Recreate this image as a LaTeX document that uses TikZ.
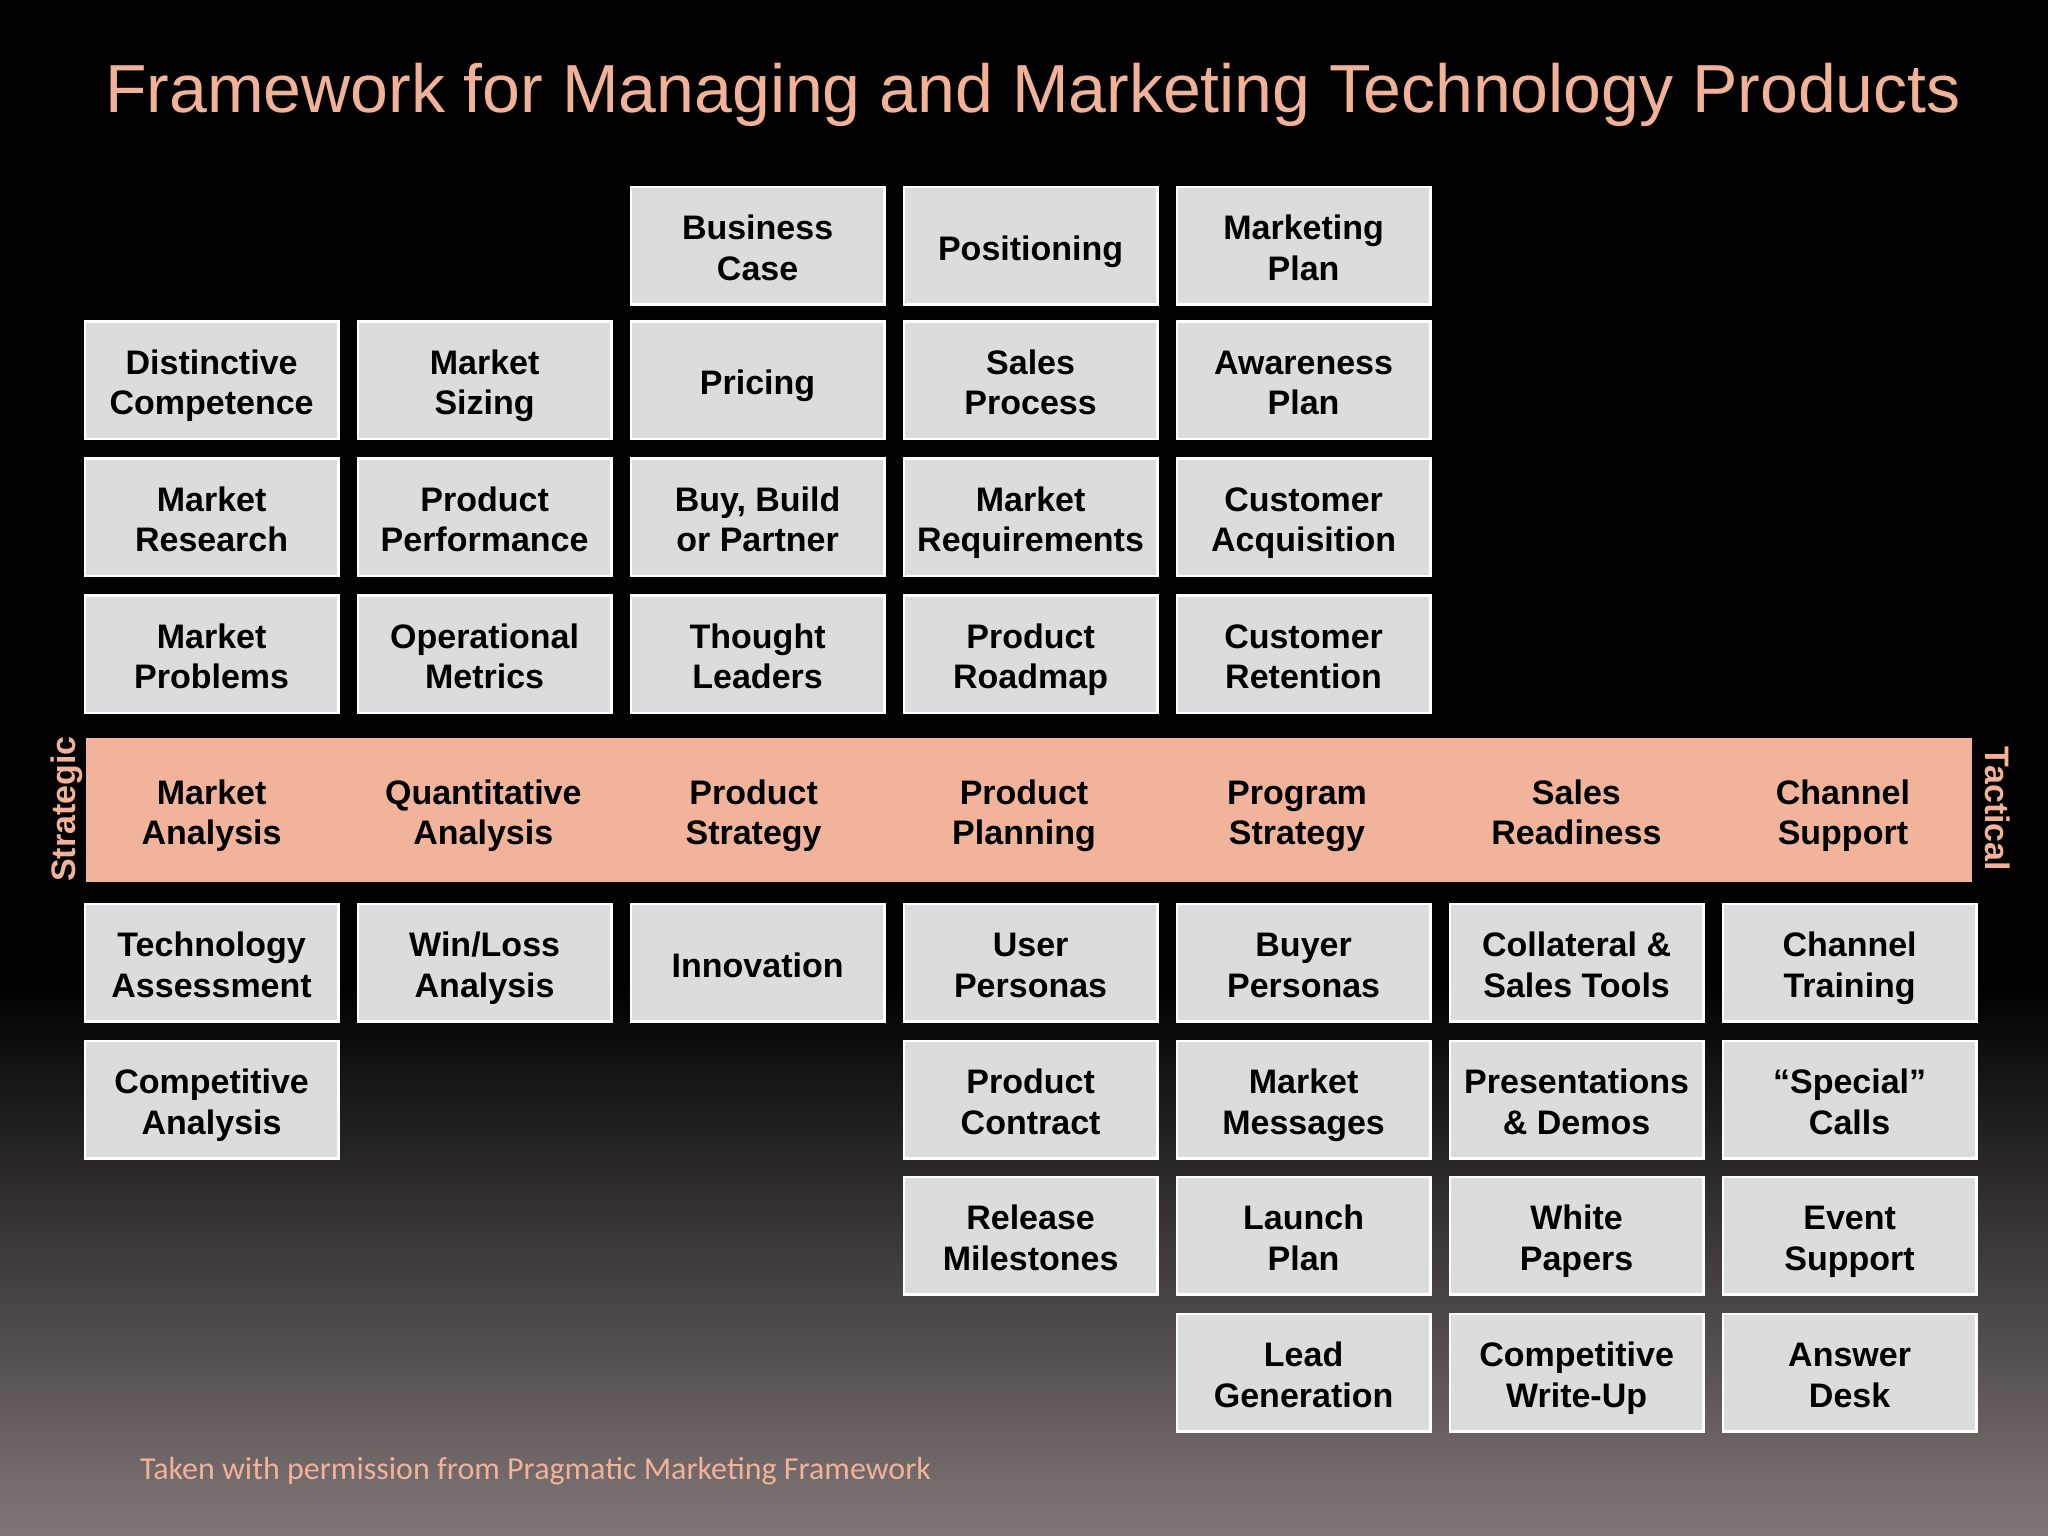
\documentclass[tikz,border=0pt]{standalone}
\usepackage{fontspec}
\setmainfont{Liberation Sans}
\newfontfamily\footfont{Carlito}
\definecolor{salmon}{RGB}{242,178,152}
\definecolor{bandfill}{RGB}{242,179,155}
\definecolor{boxfill}{RGB}{220,219,221}
\definecolor{bgbottom}{RGB}{128,118,119}
\begin{document}
\begin{tikzpicture}[x=1pt,y=-1pt,
  celltext/.style={align=center, font=\fontsize{34}{40.5}\selectfont\bfseries, text=black,
    text height=78.5pt, text depth=9pt},
  cell/.style={celltext, rectangle, fill=boxfill, draw=white, line width=2.5pt,
    minimum width=253.4pt, minimum height=117.5pt, inner sep=0pt},
  oneline/.style={text height=38pt},
  side/.style={font=\fontsize{34}{40}\selectfont\bfseries, text=salmon, inner sep=0pt}]
\useasboundingbox (0,0) rectangle (2048,1536);
\fill[black] (0,0) rectangle (2048,1536);
\shade[top color=black, bottom color=bgbottom] (0,980) rectangle (2048,1536);

\node[anchor=base, text=salmon, font=\fontsize{68}{80}\selectfont, inner sep=0pt] (title) at (1033,113)
  {Framework for Managing and Marketing Technology Products};

% row 1
\node[cell] (buscase) at (757.6,245.5) {Business\\Case};
\node[cell, oneline] (positioning) at (1030.6,245.5) {Positioning};
\node[cell] (mktplan) at (1303.6,245.5) {Marketing\\Plan};
% row 2
\node[cell] (distinct) at (211.6,380) {Distinctive\\Competence};
\node[cell] (sizing) at (484.6,380) {Market\\Sizing};
\node[cell, oneline] (pricing) at (757.6,380) {Pricing};
\node[cell] (salesproc) at (1030.6,380) {Sales\\Process};
\node[cell] (awareness) at (1303.6,380) {Awareness\\Plan};
% row 3
\node[cell] (research) at (211.6,517) {Market\\Research};
\node[cell] (prodperf) at (484.6,517) {Product\\Performance};
\node[cell] (buybuild) at (757.6,517) {Buy, Build\\or Partner};
\node[cell] (mktreq) at (1030.6,517) {Market\\Requirements};
\node[cell] (acquisition) at (1303.6,517) {Customer\\Acquisition};
% row 4
\node[cell] (problems) at (211.6,654) {Market\\Problems};
\node[cell] (opmetrics) at (484.6,654) {Operational\\Metrics};
\node[cell] (thought) at (757.6,654) {Thought\\Leaders};
\node[cell] (roadmap) at (1030.6,654) {Product\\Roadmap};
\node[cell] (retention) at (1303.6,654) {Customer\\Retention};

% band
\node[rectangle, fill=bandfill, minimum width=1886pt, minimum height=144.5pt, inner sep=0pt] (band) at (1029,809.75) {};
\node[celltext] (b1) at (211.6,809.75) {Market\\Analysis};
\node[celltext] (b2) at (483.3,809.75) {Quantitative\\Analysis};
\node[celltext] (b3) at (753.6,809.75) {Product\\Strategy};
\node[celltext] (b4) at (1024,809.75) {Product\\Planning};
\node[celltext] (b5) at (1297,809.75) {Program\\Strategy};
\node[celltext] (b6) at (1576.4,809.75) {Sales\\Readiness};
\node[celltext] (b7) at (1842.9,809.75) {Channel\\Support};
\node[side, rotate=90] (strategic) at (67,809) {Strategic};
\node[side, rotate=-90] (tactical) at (1998,809) {Tactical};

% row 5
\node[cell] (techassess) at (211.6,962.5) {Technology\\Assessment};
\node[cell] (winloss) at (484.6,962.5) {Win/Loss\\Analysis};
\node[cell, oneline] (innovation) at (757.6,962.5) {Innovation};
\node[cell] (userpers) at (1030.6,962.5) {User\\Personas};
\node[cell] (buyerpers) at (1303.6,962.5) {Buyer\\Personas};
\node[cell] (collateral) at (1576.6,962.5) {Collateral \&\\Sales Tools};
\node[cell] (chtraining) at (1849.6,962.5) {Channel\\Training};
% row 6
\node[cell] (compan) at (211.6,1099.5) {Competitive\\Analysis};
\node[cell] (contract) at (1030.6,1099.5) {Product\\Contract};
\node[cell] (messages) at (1303.6,1099.5) {Market\\Messages};
\node[cell] (presentations) at (1576.6,1099.5) {Presentations\\\& Demos};
\node[cell] (special) at (1849.6,1099.5) {“Special”\\Calls};
% row 7
\node[cell] (release) at (1030.6,1235.5) {Release\\Milestones};
\node[cell] (launch) at (1303.6,1235.5) {Launch\\Plan};
\node[cell] (whitepapers) at (1576.6,1235.5) {White\\Papers};
\node[cell] (event) at (1849.6,1235.5) {Event\\Support};
% row 8
\node[cell] (leadgen) at (1303.6,1372.5) {Lead\\Generation};
\node[cell] (writeup) at (1576.6,1372.5) {Competitive\\Write-Up};
\node[cell] (answer) at (1849.6,1372.5) {Answer\\Desk};

\node[anchor=base west, text=salmon, font=\footfont\fontsize{32}{38}\selectfont, inner sep=0pt] (footer) at (140,1479)
  {Taken with permission from Pragmatic Marketing Framework};
\end{tikzpicture}
\end{document}
